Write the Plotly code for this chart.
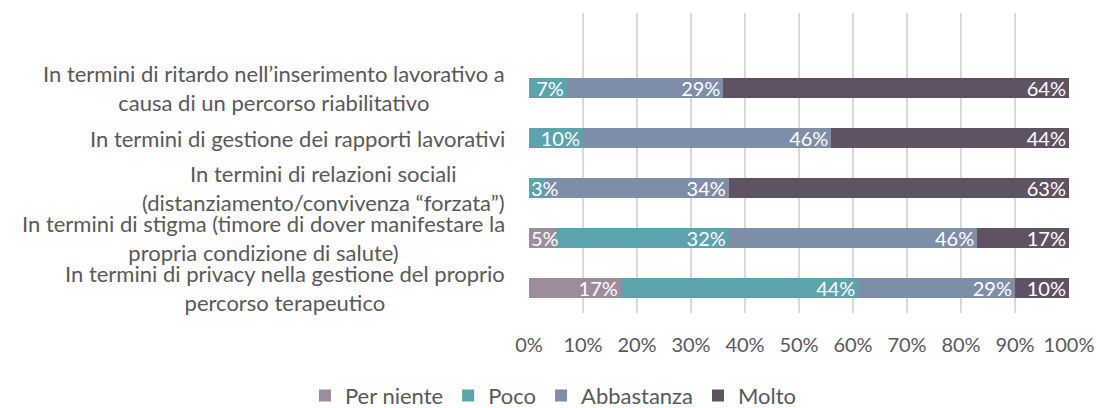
import plotly.graph_objects as go

categories = [
    "In termini di privacy nella gestione del proprio<br>percorso terapeutico",
    "In termini di stigma (timore di dover manifestare la<br>propria condizione di salute)",
    "In termini di relazioni sociali<br>(distanziamento/convivenza “forzata”)",
    "In termini di gestione dei rapporti lavorativi",
    "In termini di ritardo nell’inserimento lavorativo a<br>causa di un percorso riabilitativo",
]
series_names = ["Per niente", "Poco", "Abbastanza", "Molto"]
per_niente = [17, 5, 0, 0, 0]
poco = [44, 32, 3, 10, 7]
abbastanza = [29, 46, 34, 46, 29]
molto = [10, 17, 63, 44, 64]
x_ticks = [0, 10, 20, 30, 40, 50, 60, 70, 80, 90, 100]
x_tick_labels = [f"{v}%" for v in x_ticks]

colors = ["#9D8C9C", "#5BA3AD", "#7E8EA8", "#5F5363"]
values = [per_niente, poco, abbastanza, molto]

FONT = "Lato, Noto Sans, sans-serif"
GRAY = "#595959"
SMALL = 6  # segments narrower than this get their label placed from the segment start

fig = go.Figure()
starts = [0] * len(categories)
small_labels = []
for name, vals, col in zip(series_names, values, colors):
    texts = []
    for i, v in enumerate(vals):
        if v <= 0:
            texts.append("")
        elif v < SMALL:
            texts.append("")
            small_labels.append((starts[i], i, f"{v}%"))
        else:
            texts.append(f"{v}%")
        starts[i] += v
    fig.add_trace(go.Bar(
        name=name,
        y=list(range(len(categories))),
        x=vals,
        orientation="h",
        marker=dict(color=col, line=dict(width=0)),
        width=0.4,
        text=texts,
        textposition="inside",
        insidetextanchor="end",
        constraintext="none",
        textangle=0,
        textfont=dict(color="white", size=20, family=FONT),
        cliponaxis=False,
        hoverinfo="skip",
    ))

for x0, i, t in small_labels:
    fig.add_annotation(
        x=x0, xref="x", xanchor="left", xshift=0,
        y=i, yref="y", yanchor="middle",
        text=t, showarrow=False,
        font=dict(size=20, color="white", family=FONT),
    )

for i, cat in enumerate(categories):
    fig.add_annotation(
        x=0, xref="paper", xanchor="right", xshift=-22,
        y=i, yref="y", yanchor="middle",
        text=cat, showarrow=False, align="center",
        font=dict(size=22, color=GRAY, family=FONT),
    )

fig.update_layout(
    barmode="stack",
    width=1096, height=408,
    margin=dict(l=529, r=27, t=13, b=95, autoexpand=False),
    paper_bgcolor="white", plot_bgcolor="white",
    font=dict(family=FONT, color=GRAY, size=20),
    showlegend=True,
    legend=dict(
        orientation="h", xref="container", yref="container",
        x=0.505, xanchor="center", y=0.03, yanchor="middle",
        font=dict(size=22, color=GRAY, family=FONT),
        traceorder="normal", itemwidth=30,
    ),
    xaxis=dict(
        range=[0, 100], tickvals=x_ticks, ticktext=x_tick_labels,
        showgrid=True, gridcolor="#D9D9D9", gridwidth=1.5,
        zeroline=False, showline=False, ticks="",
        ticklabelstandoff=18,
        tickfont=dict(size=20, color=GRAY, family=FONT),
    ),
    yaxis=dict(
        range=[-0.5, 5.5], showticklabels=False, showgrid=False,
        zeroline=False, showline=False, ticks="",
    ),
)

fig.write_html(
    "out.html",
    config={"displayModeBar": False},
    post_script="document.body.style.margin='0';document.body.style.padding='0';",
)
